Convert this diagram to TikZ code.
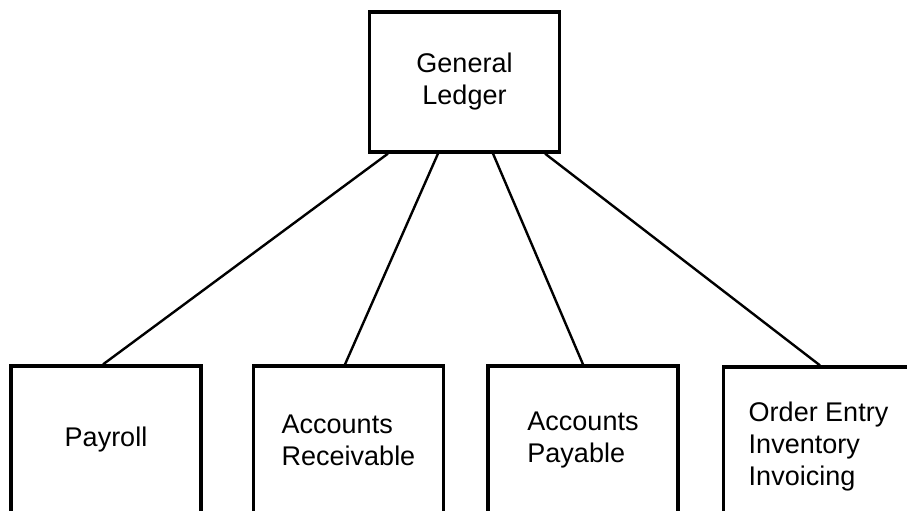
\documentclass[tikz,border=0pt]{standalone}
\usepackage{fontspec}
\setmainfont{Liberation Sans}
\usetikzlibrary{positioning}

\begin{document}
\begin{tikzpicture}[x=1pt, y=1pt,
    box style/.style={
        rectangle, draw, line width=3.2pt,
        minimum width=190, minimum height=140,
        inner sep=0pt, align=left,
        font=\fontsize{27}{32}\selectfont
    },
    low box/.style={box style, minimum height=148},
    link/.style={line width=2.4pt}
]
    \useasboundingbox (0,0) rectangle (907,511);
    \clip (0,0) rectangle (907,511);
    \node[box style, align=center] (gl) at (464.5,429) {General\\Ledger};
    \node[low box] (pay) at (106,71) {Payroll};
    \node[low box] (ar) at (348.5,71) {Accounts\\Receivable};
    \node[low box] (ap) at (583,71) {Accounts\\Payable};
    \node[low box, minimum height=160] (oe) at (818.5,64) {Order Entry\\Inventory\\Invoicing};

    \draw[link] ([xshift=-76.5]gl.south) -- ([xshift=-3]pay.north);
    \draw[link] ([xshift=-26.5]gl.south) -- ([xshift=-3.5]ar.north);
    \draw[link] ([xshift=28.5]gl.south) -- (ap.north);
    \draw[link] ([xshift=80.5]gl.south) -- ([xshift=1.5]oe.north);
\end{tikzpicture}
\end{document}
